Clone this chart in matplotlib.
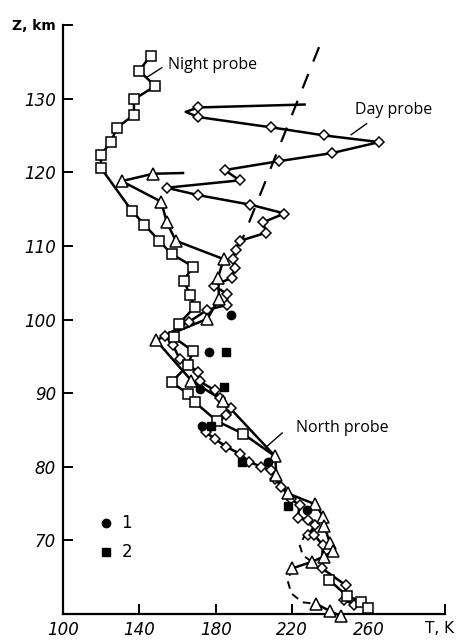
import matplotlib
matplotlib.use("Agg")
import matplotlib.pyplot as plt
import matplotlib.transforms as mtransforms
import numpy as np

# ---- data (T in K, Z in km) ----
night_T = [145.8, 139.8, 148.2, 137.1, 137.1, 128.0, 125.1, 119.8, 119.8, 135.9, 142.5, 150.3,
           156.8, 168.0, 163.2, 166.3, 168.9, 160.6, 158.0, 168.0, 165.4, 156.8, 165.4, 168.9,
           180.6, 194.2]
night_Z = [135.8, 133.8, 131.7, 129.9, 127.8, 126.0, 124.1, 122.4, 120.6, 114.8, 112.9, 110.7,
           108.9, 107.2, 105.3, 103.4, 101.7, 99.4, 97.6, 95.7, 93.8, 91.5, 89.9, 88.8,
           86.2, 84.5]
night_low_T = [239.4, 248.5, 256.0, 259.4]
night_low_Z = [64.6, 62.5, 61.7, 60.8]

north_T = [162.8, 147.2, 130.7, 151.4, 154.3, 159.0, 184.1, 181.1, 181.7, 175.5, 148.6, 167.2,
           183.7, 211.1, 211.6, 217.6, 232.1, 236.3, 236.8, 239.8, 241.1, 236.4, 230.2, 219.9]
north_Z = [119.9, 119.8, 118.8, 116.0, 113.2, 110.7, 108.2, 105.7, 102.8, 100.1, 97.2, 91.7,
           89.0, 81.4, 78.9, 76.4, 74.9, 73.2, 71.9, 69.6, 68.5, 67.8, 67.1, 66.2]
north_low_T = [232.5, 239.8, 245.5]
north_low_Z = [61.4, 60.4, 59.7]

day_T = [226.4, 170.7, 164.2, 170.7, 209.0, 236.8, 265.5, 240.7, 212.8, 184.6, 192.4, 154.2,
         170.7, 198.0, 215.9, 204.6, 206.4, 192.8, 190.3, 188.9, 189.8, 188.6, 178.9, 185.8,
         186.0, 175.4, 166.0, 153.3, 157.6, 161.1, 170.7, 171.5, 179.4, 182.0, 188.1, 185.5,
         174.7, 179.4, 185.5, 192.4, 197.3, 203.8, 209.0, 211.1, 214.2, 219.4, 223.8, 222.9,
         228.1, 232.1, 228.1, 231.6, 235.9, 235.6, 248.1, 247.3, 252.5]
day_Z = [129.2, 128.8, 128.2, 127.5, 126.1, 125.0, 124.1, 122.6, 121.5, 120.3, 118.9, 117.9,
         116.9, 115.6, 114.4, 113.2, 111.8, 110.7, 109.5, 108.2, 107.0, 105.7, 104.6, 103.5,
         102.0, 101.3, 99.7, 97.8, 96.5, 94.6, 92.9, 91.6, 90.4, 89.3, 88.0, 87.0,
         84.7, 83.8, 82.7, 81.8, 80.7, 80.0, 79.5, 78.4, 77.3, 75.6, 74.8, 73.1,
         72.8, 72.1, 70.7, 70.7, 69.4, 66.2, 63.9, 61.9, 61.3]

dash_top_T = [234.0, 194.0]
dash_top_Z = [137.0, 111.0]
dash_s1_T = [227.3, 223.8, 225.5, 230.2]
dash_s1_Z = [71.0, 69.4, 68.0, 67.1]
dash_s2_T = [219.9, 217.6, 219.5, 225.3, 232.5]
dash_s2_Z = [66.2, 64.5, 62.8, 61.6, 61.4]

set1_T = [188.1, 176.2, 171.5, 172.7, 207.2, 227.6]
set1_Z = [100.6, 95.6, 90.6, 85.6, 80.7, 74.2]
set2_T = [185.5, 184.1, 177.3, 193.8, 218.0]
set2_Z = [95.6, 90.9, 85.6, 80.6, 74.7]

x_ticks = [100, 140, 180, 220, 260, 300]
x_labels = ["100", "140", "180", "220", "260", "T, K"]
y_ticks = [70, 80, 90, 100, 110, 120, 130, 140]
y_labels = ["70", "80", "90", "100", "110", "120", "130", "Z, km"]

# ---- figure ----
fig = plt.figure(figsize=(4.57, 6.41), dpi=100)
ax = fig.add_axes([0.138, 0.042, 0.836, 0.919])
ax.set_xlim(100, 300)
ax.set_ylim(60, 140)

lw = 1.8
mew = 1.1
k = "black"

# dashed lines
ax.plot(dash_top_T, dash_top_Z, color=k, lw=1.6, dashes=(7, 6), zorder=1)
ax.plot(dash_s1_T, dash_s1_Z, color=k, lw=1.4, dashes=(4, 3), zorder=1)
ax.plot(dash_s2_T, dash_s2_Z, color=k, lw=1.4, dashes=(4, 3), zorder=1, clip_on=False)

# day probe: line + diamonds (indices 0 and 2 are line-only points)
ax.plot(day_T, day_Z, color=k, lw=lw, zorder=2)
mk_idx = [i for i in range(len(day_T)) if i not in (0, 2)]
ax.plot(np.array(day_T)[mk_idx], np.array(day_Z)[mk_idx], ls="none", marker="D",
        ms=5.0, mfc="white", mec=k, mew=mew, zorder=3, clip_on=False)

# north probe: triangles
ax.plot(north_T, north_Z, color=k, lw=lw, zorder=2)
ax.plot(north_T[1:], north_Z[1:], ls="none", marker="^", ms=8, mfc="white", mec=k,
        mew=mew, zorder=4)
ax.plot(north_low_T, north_low_Z, color=k, lw=lw, marker="^", ms=8, mfc="white", mec=k,
        mew=mew, zorder=4, clip_on=False)

# night probe: squares
ax.plot(night_T + [north_T[13]], night_Z + [north_Z[13]], color=k, lw=lw, zorder=2)
ax.plot(night_T, night_Z, ls="none", marker="s", ms=7.5, mfc="white", mec=k, mew=mew,
        zorder=5)
ax.plot(night_low_T, night_low_Z, color=k, lw=lw, marker="s", ms=7.5, mfc="white", mec=k,
        mew=mew, zorder=5, clip_on=False)

# data sets 1, 2
ax.plot(set1_T, set1_Z, ls="none", marker="o", ms=6, color=k, zorder=6)
ax.plot(set2_T, set2_Z, ls="none", marker="s", ms=6, color=k, zorder=6)

# legend
ax.plot([122.5], [72.4], ls="none", marker="o", ms=6, color=k)
ax.plot([122.5], [68.4], ls="none", marker="s", ms=6, color=k)
ax.text(130.5, 72.4, "1", fontsize=12, va="center", ha="left")
ax.text(130.5, 68.4, "2", fontsize=12, va="center", ha="left")

# annotations
afont = dict(fontsize=11.5, family="Open Sans", va="center", ha="left")
ax.text(154.8, 134.6, "Night probe", **afont)
ax.plot([143.9, 151.7], [132.9, 134.2], color=k, lw=1.0)
ax.text(253.0, 128.5, "Day probe", **afont)
ax.plot([250.8, 258.9], [125.1, 126.6], color=k, lw=1.0)
ax.text(222.2, 85.3, "North probe", **afont)
ax.plot([206.4, 214.7], [82.7, 84.6], color=k, lw=1.0)

# axes styling
for s in ("top", "right"):
    ax.spines[s].set_visible(False)
for s in ("left", "bottom"):
    ax.spines[s].set_linewidth(1.6)
ax.set_xticks(x_ticks)
ax.set_xticklabels(x_labels)
ax.set_yticks(y_ticks)
ax.set_yticklabels(y_labels)
ax.tick_params(direction="in", length=7, width=1.4, labelsize=12, pad=5)
for t in ax.get_xticklabels() + ax.get_yticklabels():
    t.set_fontstyle("italic")
zl = ax.get_yticklabels()[-1]
zl.set_fontsize(10)
zl.set_fontstyle("normal")
zl.set_fontweight("bold")
tl = ax.get_xticklabels()[-1]
tl.set_fontstyle("normal")
tl.set_fontsize(11)
tl.set_transform(tl.get_transform() +
                 mtransforms.ScaledTranslation(-6 / 100, 0, fig.dpi_scale_trans))

fig.savefig("out.png", dpi=100)
